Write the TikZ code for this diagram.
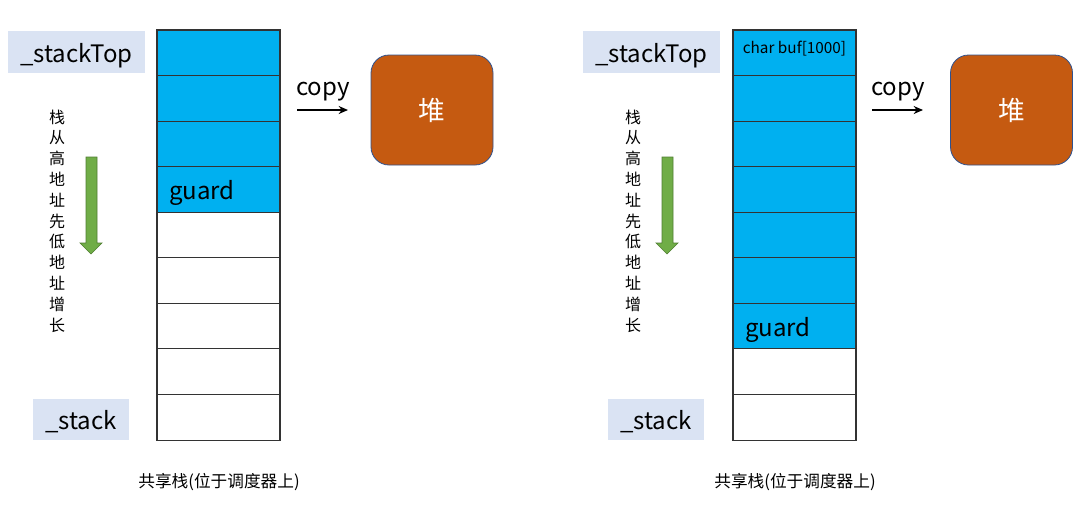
\documentclass[tikz,border=0pt]{standalone}
\usepackage{fontspec}
\usepackage{tikz}
\usetikzlibrary{arrows.meta,positioning}
\newfontfamily\cjk{Noto Sans CJK SC}
\definecolor{cellblue}{RGB}{0,176,240}
\definecolor{tagblue}{RGB}{218,227,243}
\definecolor{heaporange}{RGB}{197,90,17}
\definecolor{heapedge}{RGB}{47,82,143}
\definecolor{growgreen}{RGB}{112,173,71}
\definecolor{growedge}{RGB}{80,126,50}
\tikzset{
  cell/.style={draw=black!80,line width=0.8pt,minimum width=92.25pt,minimum height=34.17pt,inner sep=0pt},
  tag/.style={fill=tagblue,inner sep=0pt,text height=19pt,text depth=4pt,font=\cjk\fontsize{18}{20}\selectfont},
  bigtxt/.style={font=\cjk\fontsize{18}{20}\selectfont},
  heap/.style={fill=heaporange,draw=heapedge,line width=0.6pt,rounded corners=13.5pt,
    minimum width=91.5pt,minimum height=82.5pt,text=white,font=\cjk\fontsize{20}{22}\selectfont},
  dirtxt/.style={align=center,inner sep=0pt,font=\cjk\fontsize{12}{15.6}\selectfont}
}

\begin{document}
\begin{tikzpicture}[x=0.75pt,y=-0.75pt,every node/.style={font=\cjk\fontsize{12.5}{14}\selectfont},>={Stealth[length=7pt,width=6pt]}]
  \useasboundingbox (0,0) rectangle (1087,504);
  % left: before copy
  \foreach \n in {0,1,2,3}{
    \node[cell,fill=cellblue] (L\n) at (218.5,{30+45.56*(\n+0.5)}) {};
  }
  \foreach \n in {4,...,8}{
    \node[cell,fill=white] (L\n) at (218.5,{30+45.56*(\n+0.5)}) {};
  }
  \node[bigtxt,anchor=west,xshift=6pt,yshift=-2.5pt] (lguard) at (L3.west) {guard};
  \node[tag,minimum width=102.75pt,minimum height=31.5pt] (ltop) at (76.5,52) {\_stackTop};
  \node[tag,minimum width=72pt,minimum height=30.75pt] (lbot) at (81,419.5) {\_stack};
  \node[dirtxt] (ldir) at (57,221) {栈\\从\\高\\地\\址\\先\\低\\地\\址\\增\\长};
  \filldraw[fill=growgreen,draw=growedge,line width=0.5pt]
    (86,157) -- (97,157) -- (97,243) -- (102,243) -- (91,254) -- (80,243) -- (86,243) -- cycle;
  \node[bigtxt] (lcopy) at (323,92) {copy};
  \coordinate (lcpA) at (297,110);
  \coordinate (lcpB) at (348,110);
  \draw[->,line width=1.3pt] (lcpA) -- (lcpB);
  \node[heap] (lheap) at (432,110) {堆};
  \node (lcap) at (219,482) {共享栈(位于调度器上)};

  % right: with char buf[1000] on the stack
  \foreach \n in {0,...,6}{
    \node[cell,fill=cellblue] (R\n) at (794.5,{30+45.56*(\n+0.5)}) {};
  }
  \foreach \n in {7,8}{
    \node[cell,fill=white] (R\n) at (794.5,{30+45.56*(\n+0.5)}) {};
  }
  \node[anchor=north,yshift=-5pt,font=\cjk\fontsize{11.5}{13}\selectfont] (rbuf) at (R0.north) {char buf[1000]};
  \node[bigtxt,anchor=west,xshift=6pt,yshift=-2.5pt] (rguard) at (R6.west) {guard};
  \node[tag,minimum width=102.75pt,minimum height=31.5pt] (rtop) at (651.5,52) {\_stackTop};
  \node[tag,minimum width=72pt,minimum height=30.75pt] (rbot) at (656,419.5) {\_stack};
  \node[dirtxt] (rdir) at (633,221) {栈\\从\\高\\地\\址\\先\\低\\地\\址\\增\\长};
  \filldraw[fill=growgreen,draw=growedge,line width=0.5pt]
    (662,157) -- (673,157) -- (673,243) -- (678,243) -- (667,254) -- (656,243) -- (662,243) -- cycle;
  \node[bigtxt] (rcopy) at (898,92) {copy};
  \coordinate (rcpA) at (872,110);
  \coordinate (rcpB) at (923,110);
  \draw[->,line width=1.3pt] (rcpA) -- (rcpB);
  \node[heap] (rheap) at (1011.5,110) {堆};
  \node (rcap) at (795,482) {共享栈(位于调度器上)};
\end{tikzpicture}
\end{document}
